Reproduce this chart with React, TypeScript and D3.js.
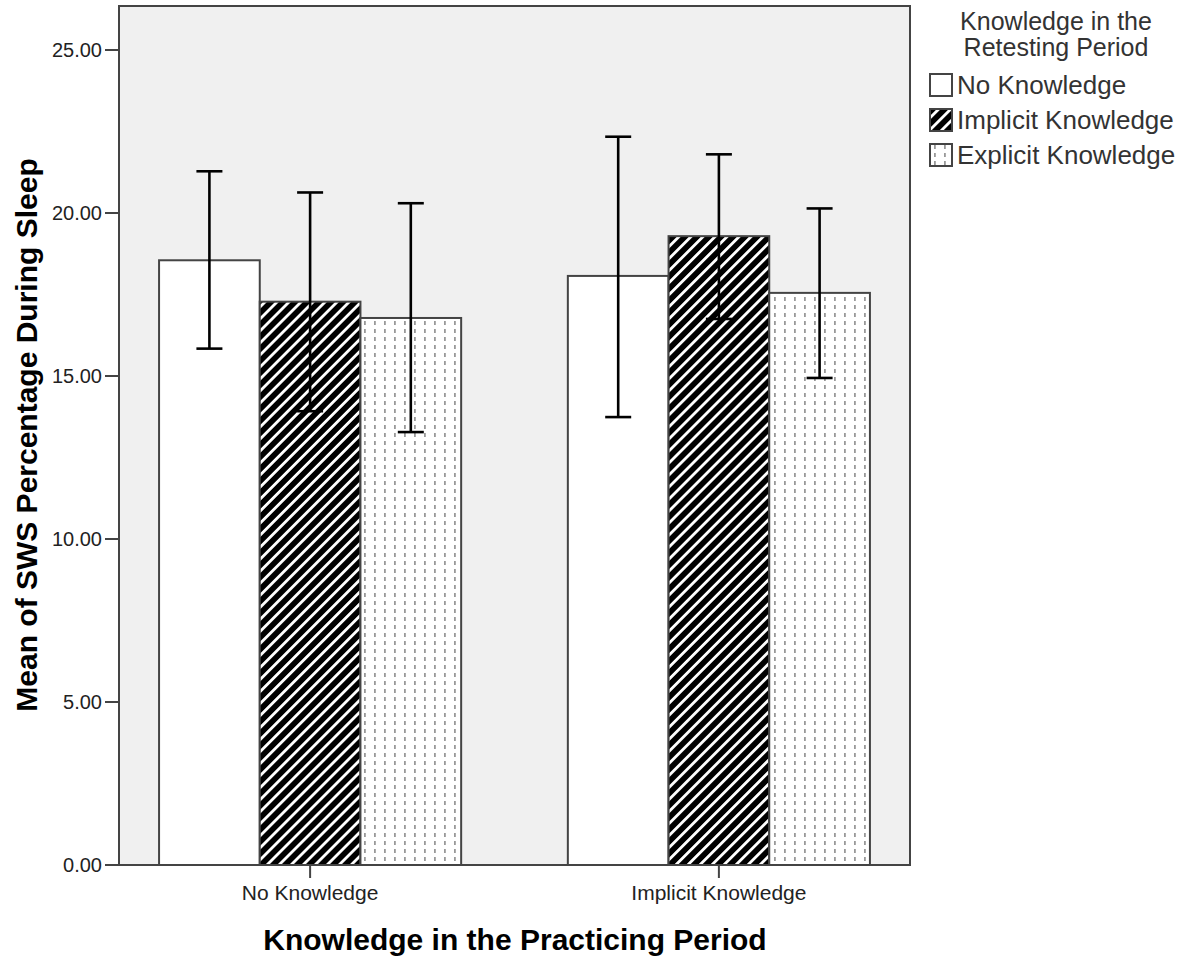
import React from 'react';
import * as d3 from 'd3';

const groups = ['No Knowledge', 'Implicit Knowledge'];
const series = ['No Knowledge', 'Implicit Knowledge', 'Explicit Knowledge'];
const means = [
  [18.55, 17.28, 16.78],
  [18.07, 19.29, 17.55],
];
const lowerCI = [
  [15.84, 13.92, 13.28],
  [13.74, 16.75, 14.94],
];
const upperCI = [
  [21.28, 20.63, 20.3],
  [22.34, 21.8, 20.14],
];
const yTicks = [0, 5, 10, 15, 20, 25];

const fills = ['#ffffff', 'url(#hatch)', 'url(#dots)'];

export default function App() {
  const left = 119, right = 910, top = 6, bottom = 865;

  const x = d3.scaleBand().domain(groups).range([left, right]).paddingInner(0.261).paddingOuter(0.098);
  const xs = d3.scaleBand().domain(series).range([0, x.bandwidth()]);
  const y = d3.scaleLinear().domain([0, 26.35]).range([bottom, top]);
  const fmt = d3.format('.2f');

  return (
    <svg width={1193} height={961} style={{ position: 'absolute', left: 0, top: 0 }}
      fontFamily="'Liberation Sans', Arial, sans-serif">
      <defs>
        <pattern id="hatch" patternUnits="userSpaceOnUse" width={8.5} height={8.5} patternTransform="rotate(45)">
          <rect width={8.5} height={8.5} fill="#000" />
          <rect x={0} y={0} width={2.8} height={8.5} fill="#fff" />
        </pattern>
        <pattern id="dots" patternUnits="userSpaceOnUse" width={10} height={8}>
          <rect width={10} height={8} fill="#fff" />
          <rect x={4} y={1} width={1.8} height={4} fill="#999" />
        </pattern>
      </defs>

      <rect x={left} y={top} width={right - left} height={bottom - top} fill="#f0f0f0" stroke="#444" strokeWidth={2} />

      {groups.map((g, gi) =>
        series.map((s, si) => {
          const bx = (x(g) ?? 0) + (xs(s) ?? 0);
          const bw = xs.bandwidth();
          return (
            <rect key={g + s} x={bx} y={y(means[gi][si])} width={bw} height={y(0) - y(means[gi][si])}
              fill={fills[si]} stroke="#444" strokeWidth={2} />
          );
        })
      )}

      {groups.map((g, gi) =>
        series.map((s, si) => {
          const cx = (x(g) ?? 0) + (xs(s) ?? 0) + xs.bandwidth() / 2;
          const y1 = y(lowerCI[gi][si]);
          const y2 = y(upperCI[gi][si]);
          return (
            <g key={'e' + g + s} stroke="#000" strokeWidth={2.6}>
              <line x1={cx} x2={cx} y1={y1} y2={y2} />
              <line x1={cx - 13} x2={cx + 13} y1={y1} y2={y1} />
              <line x1={cx - 13} x2={cx + 13} y1={y2} y2={y2} />
            </g>
          );
        })
      )}

      <line x1={left} x2={right} y1={bottom} y2={bottom} stroke="#444" strokeWidth={2} />

      {yTicks.map(t => (
        <g key={t}>
          <line x1={left - 14} x2={left} y1={y(t)} y2={y(t)} stroke="#444" strokeWidth={2} />
          <text x={left - 17} y={y(t)} dy="0.36em" textAnchor="end" fontSize={20} fill="#222">{fmt(t)}</text>
        </g>
      ))}

      {groups.map(g => {
        const cx = (x(g) ?? 0) + x.bandwidth() / 2;
        return (
          <g key={'t' + g}>
            <line x1={cx} x2={cx} y1={bottom} y2={bottom + 13} stroke="#444" strokeWidth={2} />
            <text x={cx} y={900} textAnchor="middle" fontSize={21} fill="#222">{g}</text>
          </g>
        );
      })}

      <text x={515} y={950} textAnchor="middle" fontSize={30} fontWeight="bold" fill="#000">
        Knowledge in the Practicing Period
      </text>
      <text transform="translate(37,435) rotate(-90)" textAnchor="middle" fontSize={30} fontWeight="bold" fill="#000">
        Mean of SWS Percentage During Sleep
      </text>

      <text x={1056} y={30} textAnchor="middle" fontSize={25} fill="#333">Knowledge in the</text>
      <text x={1056} y={56} textAnchor="middle" fontSize={25} fill="#333">Retesting Period</text>
      {series.map((s, si) => {
        const cy = 85 + si * 35;
        return (
          <g key={'l' + s}>
            <rect x={930} y={cy - 11} width={22} height={22} fill={fills[si]} stroke="#444" strokeWidth={2} />
            <text x={957} y={cy} dy="0.36em" fontSize={26} fill="#333">{s}</text>
          </g>
        );
      })}
    </svg>
  );
}
